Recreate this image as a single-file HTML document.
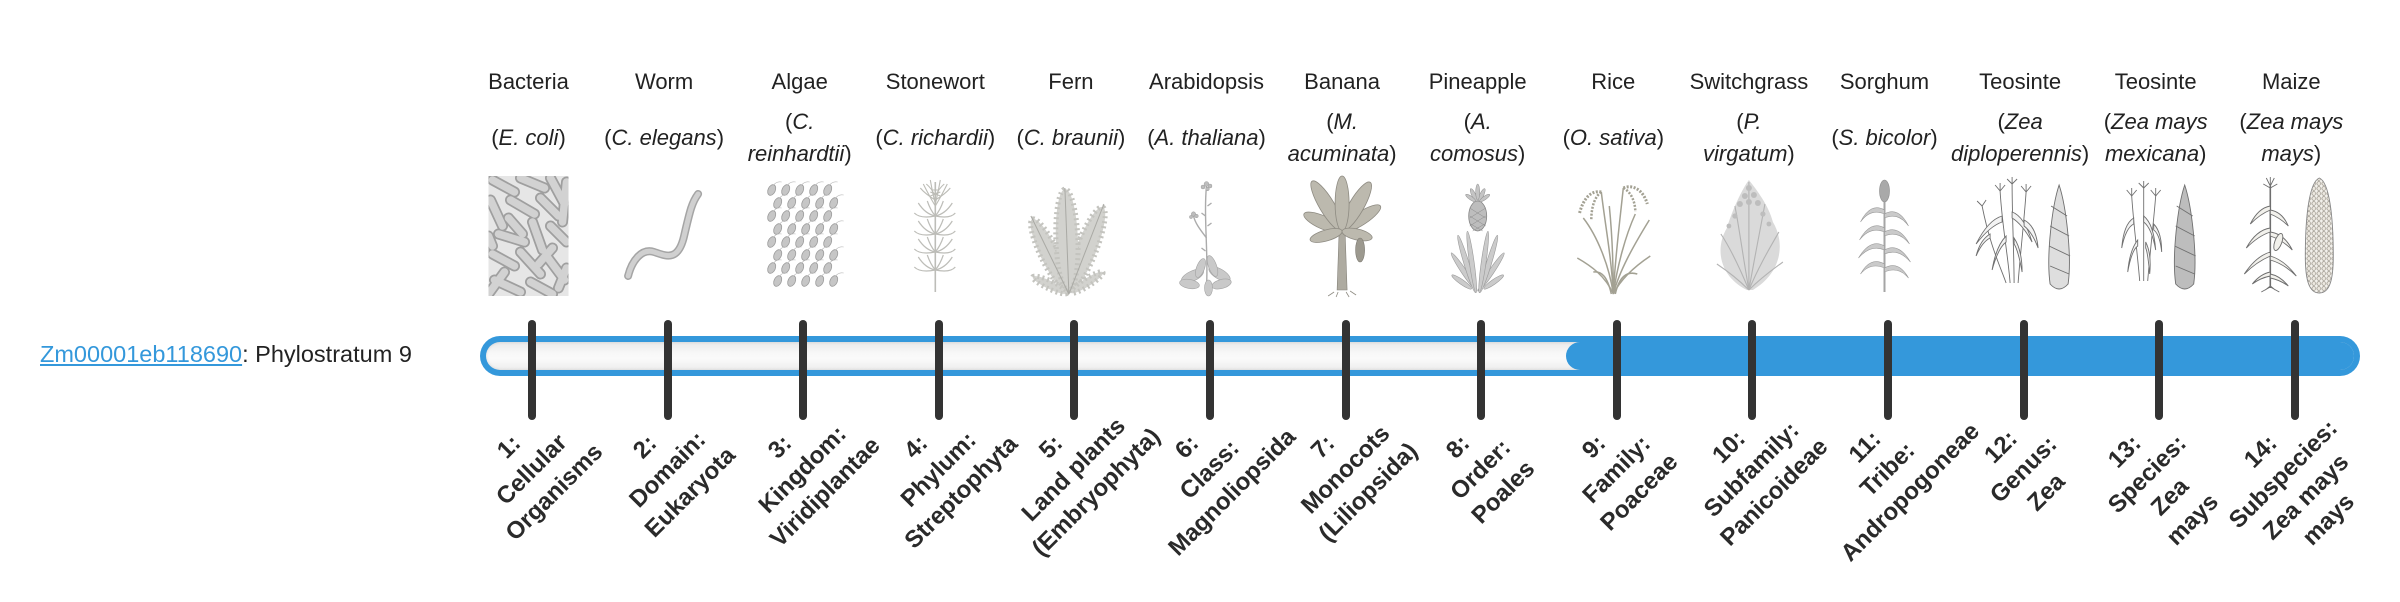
<!DOCTYPE html>
<html>
<head>
<meta charset="utf-8">
<style>
  html,body{margin:0;padding:0;background:#fff;}
  body{width:2400px;height:580px;position:relative;overflow:hidden;font-family:"Liberation Sans",Arial,sans-serif;color:#222;}
  .abs{position:absolute;}
  .lbl{position:absolute;left:40px;top:339px;font-size:23.5px;line-height:30px;white-space:nowrap;color:#222;}
  .lbl a{color:#3498db;text-decoration:underline;}
  .cn{position:absolute;top:66.4px;width:200px;text-align:center;font-size:22px;line-height:32px;white-space:nowrap;}
  .ln{position:absolute;top:106.4px;width:200px;height:64px;display:flex;align-items:center;justify-content:center;text-align:center;font-size:22px;line-height:32px;white-space:nowrap;}
  .ln i{font-style:italic;}
  .bar{left:480px;top:336px;width:1880px;height:40px;border-radius:20px;background:#3498db;}
  .inner{left:486px;top:342px;width:1868px;height:28px;border-radius:14px;background:linear-gradient(#e9e9e9,#f8f8f8 40%,#fafafa 60%,#ededed);box-shadow:inset 0 0 3px rgba(0,0,0,.12);}
  .fill{left:1566px;top:342px;width:788px;height:28px;border-radius:14px;background:#3498db;}
  .tk{position:absolute;top:320px;width:8px;height:100px;border-radius:4px;background:#333;}
  .bl{position:absolute;top:422px;width:200px;text-align:center;font-size:24px;font-weight:bold;line-height:32px;white-space:nowrap;transform:rotate(-45deg);color:#2a2a2a;}
</style>
</head>
<body>

<svg class="abs" style="left:0;top:0" width="2400" height="580" viewBox="0 0 2400 580">
<defs>
  <clipPath id="cb"><rect x="-40" y="0" width="80" height="120"/></clipPath>
  <g id="rods">
    <line x1="-36" y1="4" x2="-14" y2="16"/>
    <line x1="-8" y1="2" x2="16" y2="12"/>
    <line x1="22" y1="2" x2="36" y2="28"/>
    <line x1="-38" y1="24" x2="-26" y2="50"/>
    <line x1="-18" y1="24" x2="6" y2="38"/>
    <line x1="12" y1="22" x2="30" y2="40"/>
    <line x1="-30" y1="58" x2="-4" y2="66"/>
    <line x1="4" y1="46" x2="14" y2="74"/>
    <line x1="22" y1="50" x2="38" y2="66"/>
    <line x1="-36" y1="78" x2="-14" y2="90"/>
    <line x1="-8" y1="76" x2="12" y2="98"/>
    <line x1="18" y1="80" x2="36" y2="104"/>
    <line x1="-34" y1="104" x2="-8" y2="116"/>
    <line x1="2" y1="106" x2="24" y2="118"/>
    <line x1="-20" y1="42" x2="-6" y2="58"/>
    <line x1="30" y1="112" x2="38" y2="92"/>
    <line x1="-24" y1="96" x2="-40" y2="118"/>
    <line x1="-40" y1="60" x2="-36" y2="70"/>
    <line x1="24" y1="72" x2="10" y2="88"/>
    <line x1="38" y1="6" x2="34" y2="46"/>
  </g>
  <g id="cell">
    <ellipse cx="0" cy="0" rx="3.6" ry="5.6" transform="rotate(25)" fill="#c6c6c6" stroke="#9c9c9c" stroke-width=".8"/>
    <path d="M2 -5 q3 -4 8 -3" fill="none" stroke="#b8b8b8" stroke-width=".6"/>
  </g>
  <g id="whorl" fill="none" stroke="#bdbdb8" stroke-width="1.2">
    <path d="M0 0 q-10 -2 -17 -13"/><path d="M0 0 q10 -2 17 -13"/>
    <path d="M0 0 q-15 3 -21 -3"/><path d="M0 0 q15 3 20 -3"/>
    <path d="M0 0 q-5 -6 -8 -15"/><path d="M0 0 q5 -6 8 -15"/>
  </g>
  <pattern id="kern" width="5" height="5" patternUnits="userSpaceOnUse">
    <rect width="5" height="5" fill="#f3f1ec"/>
    <circle cx="2.5" cy="2.5" r="1.9" fill="#ece8e0" stroke="#8d877c" stroke-width=".6"/>
  </pattern>
</defs>

<!-- 1 Bacteria -->
<g transform="translate(528.5,176)" clip-path="url(#cb)">
  <rect x="-40" y="0" width="80" height="120" fill="#e6e6e6"/>
  <use href="#rods" stroke="#9f9f9f" stroke-width="11" stroke-linecap="round"/>
  <use href="#rods" stroke="#d2d2d2" stroke-width="7.5" stroke-linecap="round"/>
</g>

<!-- 2 Worm -->
<g transform="translate(664.1,176)" fill="none" stroke-linecap="round">
  <path d="M-36 100 C-32 84,-22 72,-10 76 S14 86,20 60 S28 26,34 18" stroke="#a5a5a5" stroke-width="8"/>
  <path d="M-36 100 C-32 84,-22 72,-10 76 S14 86,20 60 S28 26,34 18" stroke="#d0d0d0" stroke-width="5"/>
</g>

<!-- 3 Algae -->
<g transform="translate(799.7,176)">
  <use href="#cell" x="-28" y="14"/><use href="#cell" x="-14" y="14"/><use href="#cell" x="0" y="14"/><use href="#cell" x="14" y="14"/><use href="#cell" x="28" y="14"/>
  <use href="#cell" x="-22" y="27"/><use href="#cell" x="-8" y="27"/><use href="#cell" x="6" y="27"/><use href="#cell" x="20" y="27"/><use href="#cell" x="34" y="27"/>
  <use href="#cell" x="-28" y="40"/><use href="#cell" x="-14" y="40"/><use href="#cell" x="0" y="40"/><use href="#cell" x="14" y="40"/><use href="#cell" x="28" y="40"/>
  <use href="#cell" x="-22" y="53"/><use href="#cell" x="-8" y="53"/><use href="#cell" x="6" y="53"/><use href="#cell" x="20" y="53"/><use href="#cell" x="34" y="53"/>
  <use href="#cell" x="-28" y="66"/><use href="#cell" x="-14" y="66"/><use href="#cell" x="0" y="66"/><use href="#cell" x="14" y="66"/><use href="#cell" x="28" y="66"/>
  <use href="#cell" x="-22" y="79"/><use href="#cell" x="-8" y="79"/><use href="#cell" x="6" y="79"/><use href="#cell" x="20" y="79"/><use href="#cell" x="34" y="79"/>
  <use href="#cell" x="-28" y="92"/><use href="#cell" x="-14" y="92"/><use href="#cell" x="0" y="92"/><use href="#cell" x="14" y="92"/><use href="#cell" x="28" y="92"/>
  <use href="#cell" x="-22" y="105"/><use href="#cell" x="-8" y="105"/><use href="#cell" x="6" y="105"/><use href="#cell" x="20" y="105"/><use href="#cell" x="34" y="105"/>
</g>

<!-- 4 Stonewort -->
<g transform="translate(935.3,176)">
  <path d="M0 116 L0 6" stroke="#bdbdb8" stroke-width="1.6" fill="none"/>
  <use href="#whorl" x="0" y="40"/>
  <use href="#whorl" x="0" y="58"/>
  <use href="#whorl" x="0" y="76"/>
  <use href="#whorl" x="0" y="94"/>
  <g fill="none" stroke="#bcbcb6" stroke-width="1.1">
    <path d="M0 30 q-6 -10 -12 -22"/><path d="M0 30 q6 -10 12 -22"/>
    <path d="M0 28 q-3 -12 -5 -24"/><path d="M0 28 q3 -12 5 -24"/>
    <path d="M0 24 q-10 -6 -15 -12"/><path d="M0 24 q10 -6 15 -12"/>
    <path d="M0 20 q-4 -8 -9 -12"/><path d="M0 20 q4 -8 9 -12"/>
    <path d="M-3 14 l6 0 M-5 20 l10 -4 M-5 16 l10 4"/>
  </g>
</g>

<!-- 5 Fern -->
<g transform="translate(1070.9,176)" fill="#d2d2ce" stroke="#c4c4bf" stroke-width="5" stroke-dasharray="2 3">
  <ellipse cx="-21" cy="79" rx="40" ry="9" transform="rotate(64 -21 79)"/>
  <ellipse cx="15.5" cy="73" rx="45" ry="10" transform="rotate(-68.7 15.5 73)"/>
  <ellipse cx="-4" cy="64" rx="51" ry="11" transform="rotate(88 -4 64)"/>
  <ellipse cx="-21" cy="109" rx="19" ry="4" transform="rotate(25.4 -21 109)"/>
  <ellipse cx="16" cy="106.5" rx="19" ry="4" transform="rotate(-32.6 16 106.5)"/>
</g>
<g transform="translate(1070.9,176)" fill="none" stroke="#a9a9a4" stroke-width="1">
  <path d="M-2 118 L-6 12"/><path d="M-2 118 L-40 40"/><path d="M-2 118 L33 28"/>
</g>

<!-- 6 Arabidopsis -->
<g transform="translate(1206.5,176)">
  <g fill="none" stroke="#ababab" stroke-width="1.4">
    <path d="M0 110 C2 80,-3 40,0 10"/>
    <path d="M0 62 C-6 54,-11 48,-13 40"/>
    <path d="M1 30 l4 -3 M-1 40 l-4 -3 M1 50 l4 -3 M-1 75 l-4 -3"/>
  </g>
  <g fill="#bdbdbd" stroke="#9f9f9f" stroke-width=".5">
    <circle cx="0" cy="8" r="2.4"/><circle cx="3.5" cy="10" r="2"/><circle cx="-3.5" cy="11" r="2"/><circle cx="1" cy="13" r="1.8"/>
    <circle cx="-13" cy="38" r="2.2"/><circle cx="-10" cy="40" r="1.8"/><circle cx="-15.5" cy="41" r="1.6"/>
  </g>
  <g fill="#c9c9c9" stroke="#a4a4a4" stroke-width=".6">
    <ellipse cx="-14" cy="100" rx="12" ry="5" transform="rotate(-25 -14 100)"/>
    <ellipse cx="13" cy="98" rx="12" ry="5" transform="rotate(30 13 98)"/>
    <ellipse cx="-17" cy="108" rx="10" ry="4.5" transform="rotate(10 -17 108)"/>
    <ellipse cx="15" cy="108" rx="10" ry="4.5" transform="rotate(-15 15 108)"/>
    <ellipse cx="-6" cy="92" rx="10" ry="4" transform="rotate(-70 -6 92)"/>
    <ellipse cx="6" cy="90" rx="11" ry="4" transform="rotate(70 6 90)"/>
    <ellipse cx="2" cy="112" rx="4" ry="8"/>
  </g>
</g>

<!-- 7 Banana -->
<g transform="translate(1342.1,176)">
  <path d="M-5 114 L-3 56 L3 56 L5 114 Z" fill="#aeaba1" stroke="#85827a" stroke-width=".6"/>
  <path d="M-8 116 l-6 4 M-4 116 l-2 5 M4 116 l3 5 M8 115 l6 4" stroke="#8f8c83" stroke-width=".8"/>
  <g fill="#bcb9ae" stroke="#8e8b82" stroke-width=".8">
    <ellipse cx="-19" cy="46.5" rx="21" ry="6.5" transform="rotate(24 -19 46.5)"/>
    <ellipse cx="19" cy="42.5" rx="23" ry="6.5" transform="rotate(-33 19 42.5)"/>
    <ellipse cx="-15" cy="30" rx="29" ry="7.5" transform="rotate(59 -15 30)"/>
    <ellipse cx="14" cy="30.5" rx="28" ry="7.5" transform="rotate(-60 14 30.5)"/>
    <ellipse cx="0" cy="27.5" rx="27.5" ry="7" transform="rotate(90 0 27.5)"/>
    <ellipse cx="-16" cy="59.5" rx="16.6" ry="5.5" transform="rotate(-16 -16 59.5)"/>
    <ellipse cx="15" cy="58.5" rx="15.4" ry="5.5" transform="rotate(13 15 58.5)"/>
  </g>
  <ellipse cx="18" cy="74" rx="4.5" ry="12" fill="#9c998f" stroke="#7d7a72" stroke-width=".6"/>
</g>

<!-- 8 Pineapple -->
<g transform="translate(1477.7,176)">
  <g fill="#cbcbcb" stroke="#9a9a9a" stroke-width=".6">
    <ellipse cx="-13.5" cy="96" rx="23" ry="2.6" transform="rotate(56 -13.5 96)"/>
    <ellipse cx="13.5" cy="96" rx="23" ry="2.6" transform="rotate(-56 13.5 96)"/>
    <ellipse cx="-11" cy="88" rx="30" ry="2.6" transform="rotate(73 -11 88)"/>
    <ellipse cx="11" cy="88" rx="30" ry="2.6" transform="rotate(-73 11 88)"/>
    <ellipse cx="-6" cy="86" rx="31" ry="2.4" transform="rotate(82 -6 86)"/>
    <ellipse cx="6" cy="86" rx="31" ry="2.4" transform="rotate(-82 6 86)"/>
    <ellipse cx="-16" cy="106" rx="12" ry="2.4" transform="rotate(35 -16 106)"/>
    <ellipse cx="16" cy="106" rx="12" ry="2.4" transform="rotate(-35 16 106)"/>
  </g>
  <ellipse cx="0" cy="40" rx="9" ry="15" fill="#bdbdbd" stroke="#858585" stroke-width=".8"/>
  <path d="M-8 32 l16 10 M-8 40 l16 10 M-7 48 l12 7 M8 32 l-16 10 M8 40 l-16 10 M7 48 l-12 7" stroke="#8a8a8a" stroke-width=".5"/>
  <g fill="#c4c4c4" stroke="#8f8f8f" stroke-width=".5">
    <ellipse cx="-4" cy="19" rx="2" ry="7" transform="rotate(-25 -4 19)"/>
    <ellipse cx="4" cy="19" rx="2" ry="7" transform="rotate(25 4 19)"/>
    <ellipse cx="0" cy="16" rx="2" ry="8"/>
    <ellipse cx="-7" cy="22" rx="1.8" ry="6" transform="rotate(-55 -7 22)"/>
    <ellipse cx="7" cy="22" rx="1.8" ry="6" transform="rotate(55 7 22)"/>
  </g>
</g>

<!-- 9 Rice -->
<g transform="translate(1613.3,176)" fill="none" stroke="#a3a193" stroke-width="1.5">
  <path d="M0 118 C-4 90,-16 60,-30 42"/>
  <path d="M0 118 C-2 80,-8 50,-12 16"/>
  <path d="M0 118 C0 80,-2 50,-4 30"/>
  <path d="M0 118 C2 80,6 50,10 12"/>
  <path d="M0 118 C4 90,12 60,22 38"/>
  <path d="M0 118 C6 95,20 70,36 44"/>
  <path d="M0 118 C-8 100,-22 90,-36 82"/>
  <path d="M0 118 C8 102,22 90,37 80"/>
  <path d="M-2 118 C-6 100,-12 95,-20 96"/>
  <path d="M2 118 C6 100,14 95,24 98"/>
  <path d="M-12 16 C-22 14,-30 22,-34 38" stroke-width="3" stroke-dasharray="2 1.5"/>
  <path d="M-12 16 C-18 20,-22 30,-22 44" stroke-width="2.5" stroke-dasharray="2 1.5"/>
  <path d="M10 12 C20 8,30 14,34 28" stroke-width="3" stroke-dasharray="2 1.5"/>
  <path d="M10 12 C18 16,22 26,22 36" stroke-width="2.5" stroke-dasharray="2 1.5"/>
</g>

<!-- 10 Switchgrass -->
<g transform="translate(1748.9,176)">
  <path d="M-2 114 C-30 100,-34 72,-22 52 C-16 32,-6 12,0 4 C8 14,20 30,24 46 C36 66,34 96,4 114 Z" fill="#dadada"/>
  <g fill="none" stroke="#b3b3b3" stroke-width="1.1">
    <path d="M0 114 C-10 90,-20 70,-28 58"/><path d="M0 114 C-6 80,-10 50,-14 30"/>
    <path d="M0 114 C0 80,0 40,0 6"/><path d="M0 114 C6 80,12 50,16 28"/>
    <path d="M0 114 C10 90,22 70,30 56"/><path d="M0 114 C-14 100,-26 92,-32 88"/>
    <path d="M0 114 C14 100,26 92,34 86"/>
  </g>
  <g fill="#bdbdbd">
    <circle cx="0" cy="12" r="3"/><circle cx="-4" cy="20" r="3"/><circle cx="5" cy="19" r="3"/>
    <circle cx="-9" cy="28" r="3"/><circle cx="9" cy="27" r="3"/><circle cx="0" cy="26" r="3"/>
    <circle cx="-14" cy="40" r="2.6"/><circle cx="14" cy="38" r="2.6"/><circle cx="-20" cy="50" r="2.4"/><circle cx="20" cy="48" r="2.4"/>
  </g>
</g>

<!-- 11 Sorghum -->
<g transform="translate(1884.5,176)">
  <path d="M0 116 L0 22" stroke="#a5a5a5" stroke-width="2" fill="none"/>
  <ellipse cx="0" cy="15" rx="5" ry="11" fill="#a9a9a9" stroke="#8c8c8c" stroke-width=".6"/>
  <g fill="#cacaca" stroke="#9a9a9a" stroke-width=".6">
    <path d="M0 34 Q-14 26 -24 46 Q-14 32 0 38 Z"/>
    <path d="M0 38 Q14 30 24 50 Q14 36 0 42 Z"/>
    <path d="M0 52 Q-14 44 -25 64 Q-14 50 0 56 Z"/>
    <path d="M0 56 Q14 48 25 68 Q14 54 0 60 Z"/>
    <path d="M0 70 Q-14 62 -26 82 Q-14 68 0 74 Z"/>
    <path d="M0 74 Q14 66 26 86 Q14 72 0 78 Z"/>
    <path d="M0 88 Q-14 80 -24 98 Q-14 86 0 92 Z"/>
    <path d="M0 92 Q14 84 24 102 Q14 90 0 96 Z"/>
  </g>
</g>

<!-- 12 Teosinte (diploperennis) -->
<g transform="translate(2020.1,176)" fill="#f3f3f3" stroke="#6e6e6e" stroke-width=".9">
  <g fill="none">
    <path d="M-10 107 C-12 80,-18 50,-20 15"/>
    <path d="M-6 107 C-6 80,-8 40,-8 8"/>
    <path d="M-2 107 C0 80,4 45,6 16"/>
    <path d="M-14 107 C-20 90,-30 70,-38 30"/>
    <path d="M-20 15 l-5 -6 M-20 15 l5 -6 M-20 15 l0 -8 M-8 8 l-5 -5 M-8 8 l5 -5 M-8 8 l0 -7 M6 16 l-5 -6 M6 16 l5 -6 M6 16 l0 -8 M-38 30 l-5 -5 M-38 30 l4 -6"/>
  </g>
  <path d="M-18 40 q-14 4 -26 28 q14 -18 26 -22 z"/>
  <path d="M-8 36 q12 4 20 30 q-10 -18 -20 -24 z"/>
  <path d="M4 44 q12 6 14 28 q-6 -16 -14 -22 z"/>
  <path d="M-14 60 q-10 10 -14 34 q6 -22 14 -28 z"/>
  <path d="M-6 62 q8 12 8 34 q-4 -22 -8 -28 z"/>
  <path d="M-30 58 q-10 6 -14 22 q6 -14 14 -18 z"/>
  <path d="M39 9 C46 30,52 80,48 108 Q39 118 30 108 C26 80,32 30,39 9 Z" fill="#dedede"/>
  <path d="M31 30 L47 40 M30 50 L49 60 M29 70 L50 80 M30 90 L49 98" fill="none"/>
</g>

<!-- 13 Teosinte (mexicana) -->
<g transform="translate(2155.7,176)" fill="#f3f3f3" stroke="#707070" stroke-width=".9">
  <g fill="none">
    <path d="M-16 105 C-18 80,-22 50,-24 20"/>
    <path d="M-12 105 C-12 80,-12 40,-12 12"/>
    <path d="M-8 105 C-6 80,-2 45,0 20"/>
    <path d="M-24 20 l-5 -6 M-24 20 l5 -6 M-24 20 l0 -8 M-12 12 l-5 -5 M-12 12 l5 -5 M-12 12 l0 -7 M0 20 l-5 -6 M0 20 l5 -6 M0 20 l0 -8"/>
  </g>
  <path d="M-22 42 q-10 6 -12 30 q4 -20 12 -24 z"/>
  <path d="M-12 40 q10 8 12 34 q-4 -22 -12 -28 z"/>
  <path d="M-2 48 q8 8 8 28 q-2 -18 -8 -22 z"/>
  <path d="M-18 64 q-8 10 -10 32 q4 -22 10 -26 z"/>
  <path d="M-10 66 q6 12 4 32 q-2 -22 -4 -26 z"/>
  <path d="M29 9 C36 30,42 80,38 108 Q29 118 20 108 C16 80,22 30,29 9 Z" fill="#bdbdbd"/>
  <path d="M21 30 L37 40 M20 50 L39 60 M19 70 L40 80 M20 90 L39 98" fill="none"/>
</g>

<!-- 14 Maize -->
<g transform="translate(2291.3,176)" stroke="#6e6e6e" stroke-width=".9">
  <path d="M-21 112 L-21 10" fill="none" stroke-width="1.6"/>
  <path d="M-21 10 l-4 -8 M-21 10 l4 -8 M-21 10 l0 -9 M-21 12 l-7 -4 M-21 12 l7 -4" fill="none"/>
  <path d="M-26 114 l5 -4 l5 4 M-30 116 l9 -5 l9 5" fill="none"/>
  <g fill="#f2f1ec">
    <path d="M-21 30 q-12 2 -20 18 q10 -10 20 -14 z"/>
    <path d="M-21 34 q12 2 18 16 q-8 -8 -18 -12 z"/>
    <path d="M-21 52 q-14 2 -24 20 q12 -12 24 -16 z"/>
    <path d="M-21 56 q14 2 22 18 q-10 -10 -22 -14 z"/>
    <path d="M-21 76 q-14 4 -26 22 q12 -12 26 -18 z"/>
    <path d="M-21 80 q14 4 26 20 q-12 -12 -26 -16 z"/>
    <path d="M-21 96 q-10 2 -18 12 q8 -6 18 -8 z"/>
    <path d="M-21 98 q10 2 18 12 q-8 -6 -18 -8 z"/>
    <ellipse cx="-13" cy="66" rx="3.5" ry="9" transform="rotate(20 -13 66)"/>
  </g>
  <path d="M28 2 C38 6,42 40,42 80 C42 105,38 117,28 117 C18 117,14 105,14 80 C14 40,18 6,28 2 Z" fill="url(#kern)" stroke="#888"/>
</g>
</svg>

<div class="lbl"><a>Zm00001eb118690</a>: Phylostratum 9</div>

<!-- common names -->
<div class="cn" style="left:428.5px">Bacteria</div>
<div class="cn" style="left:564.1px">Worm</div>
<div class="cn" style="left:699.7px">Algae</div>
<div class="cn" style="left:835.3px">Stonewort</div>
<div class="cn" style="left:970.9px">Fern</div>
<div class="cn" style="left:1106.5px">Arabidopsis</div>
<div class="cn" style="left:1242.1px">Banana</div>
<div class="cn" style="left:1377.7px">Pineapple</div>
<div class="cn" style="left:1513.3px">Rice</div>
<div class="cn" style="left:1648.9px">Switchgrass</div>
<div class="cn" style="left:1784.5px">Sorghum</div>
<div class="cn" style="left:1920.1px">Teosinte</div>
<div class="cn" style="left:2055.7px">Teosinte</div>
<div class="cn" style="left:2191.3px">Maize</div>

<!-- latin names -->
<div class="ln" style="left:428.5px"><div>(<i>E. coli</i>)</div></div>
<div class="ln" style="left:564.1px"><div>(<i>C. elegans</i>)</div></div>
<div class="ln" style="left:699.7px"><div>(<i>C.<br>reinhardtii</i>)</div></div>
<div class="ln" style="left:835.3px"><div>(<i>C. richardii</i>)</div></div>
<div class="ln" style="left:970.9px"><div>(<i>C. braunii</i>)</div></div>
<div class="ln" style="left:1106.5px"><div>(<i>A. thaliana</i>)</div></div>
<div class="ln" style="left:1242.1px"><div>(<i>M.<br>acuminata</i>)</div></div>
<div class="ln" style="left:1377.7px"><div>(<i>A.<br>comosus</i>)</div></div>
<div class="ln" style="left:1513.3px"><div>(<i>O. sativa</i>)</div></div>
<div class="ln" style="left:1648.9px"><div>(<i>P.<br>virgatum</i>)</div></div>
<div class="ln" style="left:1784.5px"><div>(<i>S. bicolor</i>)</div></div>
<div class="ln" style="left:1920.1px"><div>(<i>Zea<br>diploperennis</i>)</div></div>
<div class="ln" style="left:2055.7px"><div>(<i>Zea mays<br>mexicana</i>)</div></div>
<div class="ln" style="left:2191.3px"><div>(<i>Zea mays<br>mays</i>)</div></div>

<!-- bar -->
<div class="abs bar"></div>
<div class="abs inner"></div>
<div class="abs fill"></div>

<!-- ticks -->
<div class="tk" style="left:528px"></div>
<div class="tk" style="left:663.6px"></div>
<div class="tk" style="left:799.2px"></div>
<div class="tk" style="left:934.8px"></div>
<div class="tk" style="left:1070.4px"></div>
<div class="tk" style="left:1206px"></div>
<div class="tk" style="left:1341.6px"></div>
<div class="tk" style="left:1477.2px"></div>
<div class="tk" style="left:1612.8px"></div>
<div class="tk" style="left:1748.4px"></div>
<div class="tk" style="left:1884px"></div>
<div class="tk" style="left:2019.6px"></div>
<div class="tk" style="left:2155.2px"></div>
<div class="tk" style="left:2290.8px"></div>

<!-- rotated labels -->
<div class="bl" style="left:432px">1:<br>Cellular<br>Organisms</div>
<div class="bl" style="left:567.6px">2:<br>Domain:<br>Eukaryota</div>
<div class="bl" style="left:703.2px">3:<br>Kingdom:<br>Viridiplantae</div>
<div class="bl" style="left:838.8px">4:<br>Phylum:<br>Streptophyta</div>
<div class="bl" style="left:974.4px">5:<br>Land plants<br>(Embryophyta)</div>
<div class="bl" style="left:1110px">6:<br>Class:<br>Magnoliopsida</div>
<div class="bl" style="left:1245.6px">7:<br>Monocots<br>(Liliopsida)</div>
<div class="bl" style="left:1381.2px">8:<br>Order:<br>Poales</div>
<div class="bl" style="left:1516.8px">9:<br>Family:<br>Poaceae</div>
<div class="bl" style="left:1652.4px">10:<br>Subfamily:<br>Panicoideae</div>
<div class="bl" style="left:1788px">11:<br>Tribe:<br>Andropogoneae</div>
<div class="bl" style="left:1923.6px">12:<br>Genus:<br>Zea</div>
<div class="bl" style="left:2059.2px">13:<br>Species:<br>Zea<br>mays</div>
<div class="bl" style="left:2194.8px">14:<br>Subspecies:<br>Zea mays<br>mays</div>

</body>
</html>
